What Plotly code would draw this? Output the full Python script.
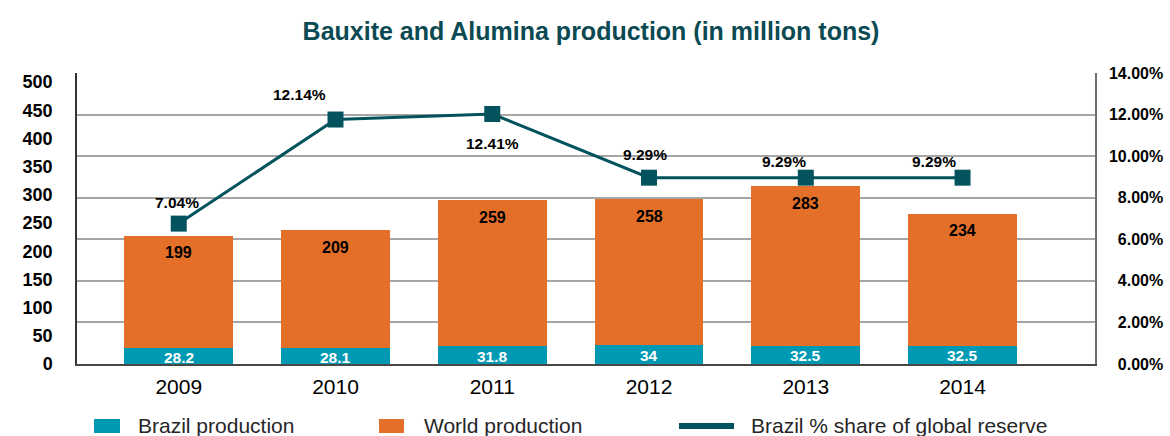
import plotly.graph_objects as go

# ---------------- data ----------------
years = ["2009", "2010", "2011", "2012", "2013", "2014"]
brazil_production = [28.2, 28.1, 31.8, 34, 32.5, 32.5]
world_production = [199, 209, 259, 258, 283, 234]
brazil_share_pct = [7.04, 12.14, 12.41, 9.29, 9.29, 9.29]

left_tick_values = [0, 50, 100, 150, 200, 250, 300, 350, 400, 450, 500]
right_tick_values = [0, 2, 4, 6, 8, 10, 12, 14]
right_tick_labels = ["0.00%", "2.00%", "4.00%", "6.00%", "8.00%", "10.00%", "12.00%", "14.00%"]

series_names = ["Brazil production", "World production", "Brazil % share of global reserve"]
title_text = "Bauxite and Alumina production (in million tons)"

# ---------------- style ----------------
FONT = "Liberation Sans, Arial, sans-serif"
TEAL = "#0099b4"
ORANGE = "#e36f28"
LINE = "#02535e"
TITLE_COLOR = "#0b4a52"
GRID = "#a6a6a6"

# pixel offsets of the % labels relative to their markers (label placement style)
share_label_dx = [-2, -36, 0, -4, -22, -29]
share_label_dy = [21, 25, -29, 23, 16, 16]

W, H = 1170, 436
ML, MR, MT, MB = 77, 75, 73, 72
PW, PH = W - ML - MR, H - MT - MB


def px_x(p):
    return (p - ML) / PW


def px_y(p):
    return (H - MB - p) / PH


# right-align the right-axis labels by padding with figure spaces (digit width)
_maxlen = max(len(t) for t in right_tick_labels)
right_tick_text = ["\u2007" * (_maxlen - len(t)) + t for t in right_tick_labels]

fig = go.Figure()

fig.add_trace(go.Bar(
    x=years, y=brazil_production, name=series_names[0],
    marker=dict(color=TEAL, line=dict(width=0)), width=0.695,
    showlegend=False, hoverinfo="skip",
))
fig.add_trace(go.Bar(
    x=years, y=world_production, name=series_names[1],
    marker=dict(color=ORANGE, line=dict(width=0)), width=0.695,
    showlegend=False, hoverinfo="skip",
))
# invisible carrier so the right-hand % axis gets drawn
fig.add_trace(go.Scatter(
    x=years, y=brazil_share_pct, yaxis="y2", mode="markers",
    marker=dict(opacity=0, size=1), showlegend=False, hoverinfo="skip",
))
fig.add_trace(go.Scatter(
    x=years, y=brazil_share_pct, name=series_names[2], yaxis="y3",
    mode="lines+markers",
    line=dict(color=LINE, width=3),
    marker=dict(symbol="square", size=16, color=LINE),
    showlegend=False, cliponaxis=False,
))

annotations = []
for i, yr in enumerate(years):
    # category index i is the position of years[i] on the category axis
    annotations.append(dict(
        x=i, y=brazil_production[i] / 2, xref="x", yref="y",
        text=f"<b>{brazil_production[i]:g}</b>", showarrow=False,
        font=dict(family=FONT, size=15.5, color="white"),
        xanchor="center", yanchor="middle", yshift=-1,
    ))
    annotations.append(dict(
        x=i, y=brazil_production[i] + world_production[i], xref="x", yref="y",
        text=f"<b>{world_production[i]:g}</b>", showarrow=False,
        font=dict(family=FONT, size=16, color="black"),
        xanchor="center", yanchor="middle", yshift=-17,
    ))
    annotations.append(dict(
        x=i, y=brazil_share_pct[i], xref="x", yref="y3",
        text=f"<b>{brazil_share_pct[i]:.2f}%</b>", showarrow=False,
        font=dict(family=FONT, size=15.5, color="black"),
        xanchor="center", yanchor="middle",
        xshift=share_label_dx[i], yshift=share_label_dy[i],
    ))

# custom legend
legend_text_x = [136, 421.6, 748.5]
for name, tx in zip(series_names, legend_text_x):
    annotations.append(dict(
        x=px_x(tx), y=px_y(425), xref="paper", yref="paper",
        text=name, showarrow=False, xanchor="left", yanchor="middle",
        font=dict(family=FONT, size=21, color="#262626"),
    ))

shapes = [
    dict(type="rect", xref="paper", yref="paper", x0=px_x(94), x1=px_x(120),
         y0=px_y(433), y1=px_y(419), fillcolor=TEAL, line=dict(width=0)),
    dict(type="rect", xref="paper", yref="paper", x0=px_x(379), x1=px_x(404),
         y0=px_y(433), y1=px_y(419), fillcolor=ORANGE, line=dict(width=0)),
    dict(type="line", xref="paper", yref="paper", x0=px_x(679), x1=px_x(734),
         y0=px_y(426), y1=px_y(426), line=dict(color=LINE, width=6)),
]

fig.update_layout(
    width=W, height=H,
    margin=dict(l=ML, r=MR, t=MT, b=MB, pad=0, autoexpand=False),
    paper_bgcolor="white", plot_bgcolor="white",
    barmode="stack",
    title=dict(text=f"<b>{title_text}</b>", x=591 / W, xanchor="center",
               y=1 - 31 / H, yanchor="middle", automargin=False,
               font=dict(family=FONT, size=25, color=TITLE_COLOR)),
    font=dict(family=FONT),
    xaxis=dict(
        type="category", range=[-0.649, 5.845], automargin=False,
        showline=True, linecolor="#474747", linewidth=2,
        showgrid=False, ticks="", ticklabelstandoff=3,
        tickfont=dict(family=FONT, size=21, color="black"),
    ),
    yaxis=dict(
        range=[0, 516], tickvals=left_tick_values, automargin=False,
        ticktext=[str(v) for v in left_tick_values],
        showgrid=False, zeroline=False,
        showline=True, linecolor="#333333", linewidth=1.5,
        ticks="", ticklabelstandoff=19,
        tickfont=dict(family=FONT, size=18, color="black", weight="bold"),
    ),
    yaxis2=dict(
        overlaying="y", side="right", anchor="x", automargin=False,
        range=[0, 14], tickvals=right_tick_values, ticktext=right_tick_text,
        showgrid=True, gridcolor=GRID, gridwidth=1.5, zeroline=False,
        showline=True, linecolor="#6e6e6e", linewidth=1.5,
        ticks="", ticklabelstandoff=9,
        tickfont=dict(family=FONT, size=16, color="black", weight="bold"),
    ),
    yaxis3=dict(
        overlaying="y", side="right", anchor="x",
        range=[0.16, 14.42], visible=False,
    ),
    annotations=annotations,
    shapes=shapes,
)

fig.write_html(
    "out.html",
    config={"displayModeBar": False},
    post_script="document.body.style.margin='0';document.body.style.padding='0';",
)
